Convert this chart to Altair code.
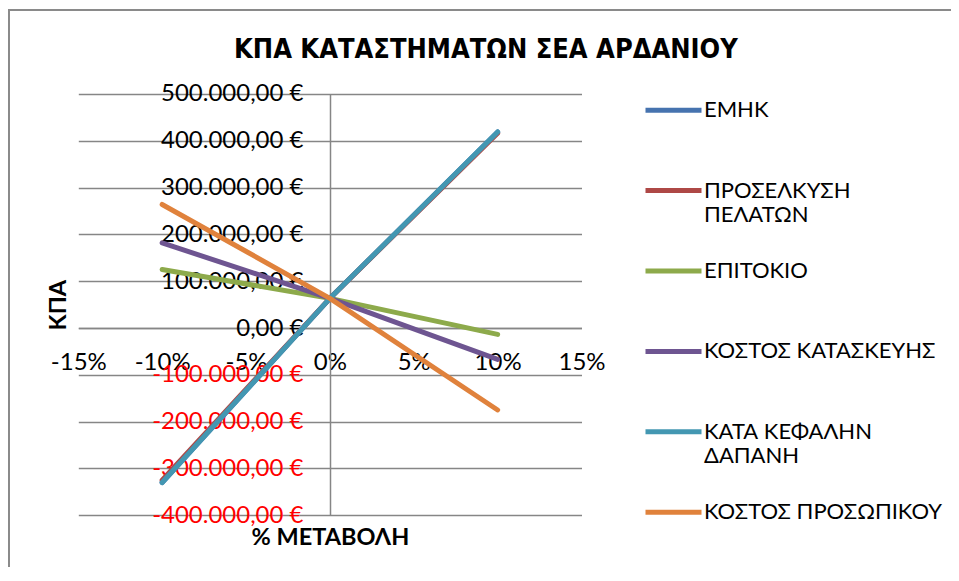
import altair as alt
import pandas as pd

# ---- data ----
series = ["ΕΜΗΚ", "ΠΡΟΣΕΛΚΥΣΗ ΠΕΛΑΤΩΝ", "ΕΠΙΤΟΚΙΟ", "ΚΟΣΤΟΣ ΚΑΤΑΣΚΕΥΗΣ",
          "ΚΑΤ\u0386 ΚΕΦΑΛΗΝ ΔΑΠΑΝΗ", "ΚΟΣΤΟΣ ΠΡΟΣΩΠΙΚΟΥ"]
colors = ["#4673AF", "#AE4846", "#8DAA4B", "#6E5591", "#4397B2", "#E0823C"]
change_pct = [-10, 0, 10]
emhk = [-330000, 63500, 419000]
proselkysi = [-325000, 63500, 416000]
epitokio = [125000, 63500, -13500]
kostos_kataskevis = [182000, 63500, -67000]
kata_kefalin = [-330000, 63500, 419000]
kostos_prosopikou = [264000, 63500, -175000]
y_ticks = [-400000, -300000, -200000, -100000, 0, 100000, 200000, 300000, 400000, 500000]
x_ticks = [-15, -10, -5, 0, 5, 10, 15]

values = [emhk, proselkysi, epitokio, kostos_kataskevis, kata_kefalin, kostos_prosopikou]
rows = []
for i, (name, vals) in enumerate(zip(series, values)):
    for x, v in zip(change_pct, vals):
        rows.append({"series": name, "idx": i, "change": x, "npv": v})
df = pd.DataFrame(rows)

FONT = "Lato, 'Open Sans', sans-serif"
TITLE_FONT = "'Liberation Sans Narrow', 'DejaVu Sans Condensed', 'Liberation Sans', sans-serif"
GRID = "#868686"
FS = 24
W, H = 503.2, 421.3
PAD_R = 369.5

label_expr_y = ("replace(replace(replace(replace(format(datum.value, ',.2f'), ',', '#'), '.', ','), '#', '.'), '\u2212', '-') + ' €'")

lines = alt.Chart(df).mark_line(strokeWidth=5, strokeCap="round", strokeJoin="round").encode(
    x=alt.X("change:Q",
            scale=alt.Scale(domain=[-15, 15], nice=False, zero=False),
            axis=alt.Axis(values=x_ticks, labelExpr="datum.value + '%'", grid=False, ticks=False,
                          offset=-187.3, labelPadding=23, labelFont=FONT, labelFontSize=FS,
                          labelColor="#000000", domainColor=GRID, domainWidth=1.5,
                          title="% ΜΕΤΑΒΟΛΗ", titleFont=FONT, titleFontSize=23.5, titleFontWeight="bold",
                          titleColor="#000000", titleX=W / 2, titleY=210, titleBaseline="middle",
                          titleAlign="center", labelFlush=False, labelOverlap=False)),
    y=alt.Y("npv:Q",
            scale=alt.Scale(domain=[-400000, 500000], nice=False, zero=False),
            axis=alt.Axis(values=y_ticks, labelExpr=label_expr_y,
                          labelColor={"condition": {"test": "datum.value < 0", "value": "#FF0000"},
                                      "value": "#000000"},
                          ticks=False, offset=-251.7, labelPadding=27, labelFont=FONT,
                          labelFontSize=FS, gridColor=GRID, gridWidth=1.5, domainColor=GRID,
                          domainWidth=1.5, labelFlush=False, labelOverlap=False,
                          title="ΚΠΑ", titleFont=FONT, titleFontSize=23.5, titleFontWeight="bold",
                          titleColor="#000000", titleAngle=-90, titleX=-271.7, titleY=H / 2,
                          titleBaseline="middle", titleAlign="center")),
    color=alt.Color("series:N", sort=series,
                    scale=alt.Scale(domain=series, range=colors),
                    legend=alt.Legend(
                        title=None, orient="none", legendX=564.7, legendY=-14.3,
                        symbolType="stroke", symbolSize=3136, symbolStrokeWidth=5,
                        labelFont=FONT, labelFontSize=22, labelColor="#000000",
                        labelLimit=400, labelOffset=0, symbolOffset=0, padding=0,
                        rowPadding=14.4, gridAlign="all",
                        labelExpr=("datum.label == 'ΠΡΟΣΕΛΚΥΣΗ ΠΕΛΑΤΩΝ' ? ['ΠΡΟΣΕΛΚΥΣΗ', 'ΠΕΛΑΤΩΝ'] : "
                                   "indexof(datum.label, 'ΚΕΦΑΛΗΝ') >= 0 ? ['ΚΑΤ\u0386 ΚΕΦΑΛΗΝ', 'ΔΑΠΑΝΗ'] : "
                                   "datum.label"))),
    detail="idx:O",
)

# chart frame (decoration only, left and top edges as in the reference)
frame_left = alt.Chart(df).mark_rule(color="#8A8A8A", strokeWidth=2).encode(
    x=alt.value(-70), y=alt.value(-84), y2=alt.value(H + 52))
frame_top = alt.Chart(df).mark_rule(color="#8A8A8A", strokeWidth=2).encode(
    x=alt.value(-71), x2=alt.value(W + PAD_R + 20), y=alt.value(-84))

chart = alt.layer(frame_left, frame_top, lines).properties(
    width=W, height=H,
    autosize=alt.AutoSizeParams(type="none"),
    padding={"left": 70.3, "top": 86, "right": PAD_R, "bottom": 52},
    background="white",
    title=alt.TitleParams("ΚΠΑ ΚΑΤΑΣΤΗΜΑΤΩΝ ΣΕΑ ΑΡΔΑΝΙΟΥ", font=TITLE_FONT, fontSize=27,
                          fontWeight="bold", color="#000000", anchor="middle", dx=156, dy=72,
                          offset=17),
).configure_view(stroke=None)

chart.save("out.html", embed_options={"renderer": "svg", "actions": False})
